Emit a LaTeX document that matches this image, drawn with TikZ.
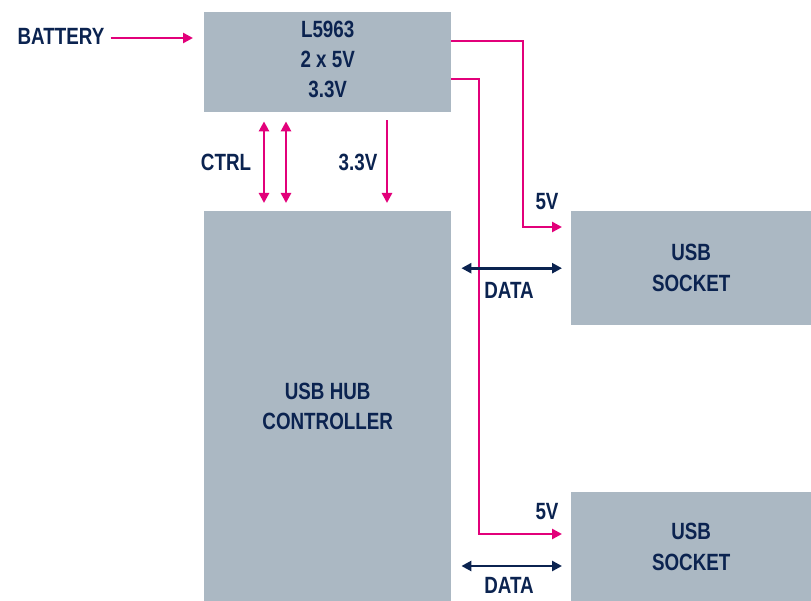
\documentclass[tikz,border=0pt]{standalone}
\usepackage{fontspec}
\setmainfont{Liberation Sans}[FakeStretch=0.8,BoldFont={Liberation Sans Bold},BoldFeatures={FakeStretch=0.8}]
\usetikzlibrary{arrows.meta}
\definecolor{boxgray}{HTML}{ABB8C3}
\definecolor{mag}{HTML}{E2007A}
\definecolor{navy}{HTML}{0B2350}
\begin{document}
\begin{tikzpicture}[x=1pt,y=-1pt,
  box/.style={fill=boxgray,draw=none,anchor=north west,inner sep=0pt,align=center,text=navy,font=\fontsize{23.5}{30}\selectfont\bfseries},
  lbl/.style={text=navy,inner sep=0pt,font=\fontsize{23.5}{30}\selectfont\bfseries},
  pw/.style={draw=mag,line width=2.7pt,-{Triangle[length=10pt,width=10pt]}},
  pwb/.style={draw=mag,line width=2.7pt,{Triangle[length=10pt,width=10pt]}-{Triangle[length=10pt,width=10pt]}},
  dat/.style={draw=navy,line width=2.7pt,{Triangle[length=10pt,width=10pt]}-{Triangle[length=10pt,width=10pt]}}]
\useasboundingbox (0,0) rectangle (811,601);
\node[box,minimum width=247pt,minimum height=100pt,
  label={[lbl,align=center,yshift=2.5pt]center:L5963\\2 x 5V\\3.3V}] (l5963) at (204,12) {};
\node[box,minimum width=247pt,minimum height=390pt] (hub) at (204,211) {USB HUB\\CONTROLLER};
\node[box,minimum width=240pt,minimum height=114pt,font=\fontsize{23.5}{31}\selectfont\bfseries] (s1) at (571,211) {USB\\SOCKET};
\node[box,minimum width=240pt,minimum height=109pt,font=\fontsize{23.5}{31}\selectfont\bfseries] (s2) at (571,492) {USB\\SOCKET};
\node[lbl] (bat) at (61,36) {BATTERY};
\node[lbl] (ctrl) at (226,162) {CTRL};
\node[lbl] (v33) at (358,162) {3.3V};
\node[lbl] (v5a) at (547,202) {5V};
\node[lbl] (v5b) at (547,512) {5V};
\node[lbl] (da) at (509,290) {DATA};
\node[lbl] (db) at (509,585) {DATA};
% battery
\draw[pw,shorten <=6pt,shorten >=11pt] (bat.east |- 0,38) -- (l5963.west |- 0,38);
% ctrl
\draw[pwb,shorten <=9pt,shorten >=8pt] ([xshift=60pt]l5963.south west) -- ([xshift=60pt]hub.north west);
\draw[pwb,shorten <=9pt,shorten >=8pt] ([xshift=82pt]l5963.south west) -- ([xshift=82pt]hub.north west);
\draw[pw,shorten <=8pt,shorten >=8pt] ([xshift=183pt]l5963.south west) -- ([xshift=183pt]hub.north west);
% 5V lines
\coordinate (k1) at (523,41);
\coordinate (k2) at (479,79);
\draw[pw,shorten >=9pt] ([yshift=-29pt]l5963.north east) -- (k1) |- ([yshift=-16pt]s1.north west);
\draw[pw,shorten >=9pt] ([yshift=-67pt]l5963.north east) -- (k2) |- ([yshift=-42pt]s2.north west);
% data
\draw[dat,shorten <=10pt,shorten >=9pt] (hub.east |- s1.west) -- (s1.west);
\draw[dat,shorten <=10pt,shorten >=9pt] (hub.east |- 0,566) -- (s2.west |- 0,566);
\end{tikzpicture}
\end{document}
